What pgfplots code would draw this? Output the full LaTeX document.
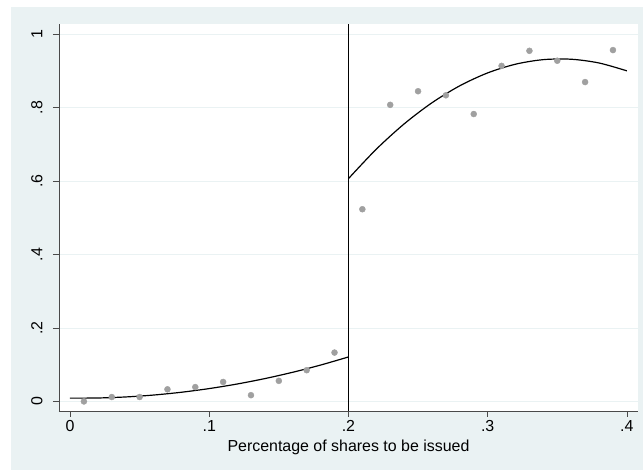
\documentclass[border=0pt]{standalone}
\usepackage{pgfplots}
\pgfplotsset{compat=1.18}
\usepackage{fontspec}
\setmainfont{Liberation Sans}
\definecolor{stbg}{HTML}{EAF2F3}
\definecolor{stgrid}{HTML}{EAF2F3}
\definecolor{stdot}{HTML}{A0A0A0}
\definecolor{staxis}{HTML}{4A4A4A}
\begin{document}
\begin{tikzpicture}[x=1bp,y=1bp]
\path[use as bounding box] (-59,-59) rectangle (584,411);
\fill[white] (-59,-59) rectangle (584,411);
\fill[stbg] (-48,-59) rectangle (584,404);
\begin{axis}[
  at={(0,0)}, anchor=south west,
  scale only axis, width=579bp, height=387bp,
  xmin=-0.0079, xmax=0.408, ymin=-0.026, ymax=1.027,
  axis background/.style={fill=white},
  axis x line*=bottom, axis y line*=left,
  axis line style={staxis, line width=0.8pt, -},
  tick align=outside, major tick length=6bp,
  tick style={staxis, line width=0.7pt},
  xtick={0,0.1,0.2,0.3,0.4}, xticklabels={0,.1,.2,.3,.4},
  ytick={0,0.2,0.4,0.6,0.8,1}, yticklabels={0,.2,.4,.6,.8,1},
  yticklabel style={rotate=90, anchor=south, yshift=7bp},
  ymajorgrids, grid style={stgrid, line width=0.8pt},
  ticklabel style={font=\fontsize{16}{18}\selectfont},
  xlabel={Percentage of shares to be issued},
  xlabel style={font=\fontsize{16}{18}\selectfont, yshift=-1bp},
  clip=false,
]
\addplot[only marks, mark=*, mark size=3bp, stdot, mark options={draw=none, fill=stdot}] coordinates {
(0.01,0.000) (0.03,0.012) (0.05,0.012) (0.07,0.033) (0.09,0.039)
(0.11,0.053) (0.13,0.017) (0.15,0.056) (0.17,0.085) (0.19,0.133)
(0.21,0.523) (0.23,0.807) (0.25,0.844) (0.27,0.833) (0.29,0.782)
(0.31,0.913) (0.33,0.954) (0.35,0.927) (0.37,0.869) (0.39,0.956)
};
\addplot[black, line width=1.2pt, smooth] coordinates {
(0.00,0.0090) (0.02,0.0094) (0.04,0.0122) (0.06,0.0174) (0.08,0.0250)
(0.10,0.0350) (0.12,0.0474) (0.14,0.0622) (0.16,0.0794) (0.18,0.0990) (0.20,0.1210)
};
\addplot[black, line width=1.2pt, smooth] coordinates {
(0.20,0.6062) (0.22,0.6863) (0.24,0.7551) (0.26,0.8127) (0.28,0.8589)
(0.30,0.8939) (0.32,0.9176) (0.34,0.9300) (0.36,0.9311) (0.38,0.9209) (0.40,0.8995)
};
\addplot[black, line width=0.8pt] coordinates {(0.2,-0.026) (0.2,1.027)};
\end{axis}
\end{tikzpicture}
\end{document}
